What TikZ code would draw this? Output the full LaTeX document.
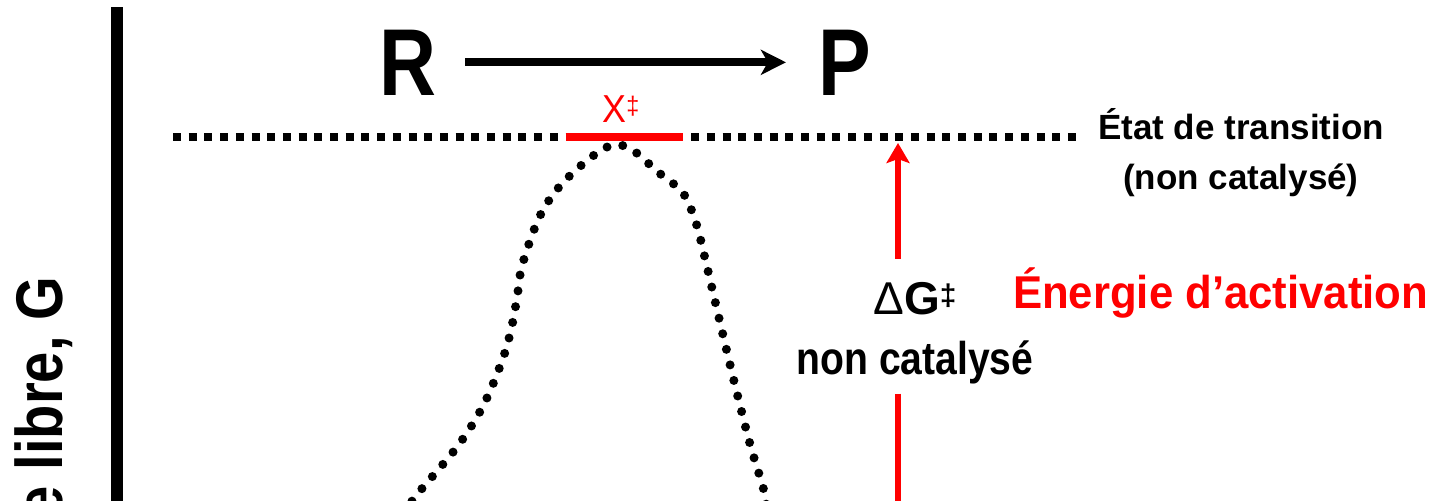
\documentclass[tikz,border=0pt]{standalone}
\usepackage{fontspec}
\setmainfont{Liberation Sans}
\usepackage{xcolor}
\usepackage{graphicx}
\usepackage{tikz}
\usetikzlibrary{arrows.meta}
\definecolor{actred}{HTML}{FF0000}
\definecolor{inkblack}{HTML}{000000}
\newcommand{\narrowed}[1]{\addfontfeatures{FakeStretch=#1}}
\newcommand{\tsmark}{\raisebox{0.18em}{\scalebox{0.65}{‡}}}
\tikzset{
  txt/.style={inner sep=0pt, outer sep=0pt, text=inkblack},
  species/.style={txt, font=\fontsize{47.5}{50}\selectfont\bfseries\narrowed{0.83}},
  tslabel/.style={txt, align=center, font=\fontsize{17.5}{25}\selectfont\bfseries},
  dglabel/.style={txt, align=center, font=\fontsize{23}{30}\selectfont\bfseries},
  actlabel/.style={txt, text=actred, font=\fontsize{23}{25}\selectfont\bfseries\narrowed{0.95}},
  xdaglabel/.style={txt, text=actred, font=\fontsize{19.5}{22}\selectfont\narrowed{0.92}},
  axislabel/.style={txt, rotate=90, font=\fontsize{33}{36}\selectfont\bfseries\narrowed{0.85}},
  gaxis/.style={line width=6pt, draw=inkblack},
  level/.style={line width=4pt, draw=inkblack, dash pattern=on 4pt off 3.85pt},
  profile/.style={line width=4.5pt, line cap=round, dash pattern=on 0pt off 8pt, draw=inkblack},
  tsbar/.style={line width=4pt, draw=actred},
  rxn/.style={-{Stealth[length=12.5pt, width=12.5pt, inset=3.5pt]}, line width=4pt, draw=inkblack},
  act/.style={line width=3.25pt, draw=actred},
  actarr/.style={act, -{Stealth[length=10pt, width=11.5pt, inset=2pt]}},
}
\begin{document}
\begin{tikzpicture}[x=0.5pt, y=-0.5pt]
  \useasboundingbox (0,0) rectangle (1439,500);
  \clip (0,0) rectangle (1439,500);
  % free energy axis
  \coordinate (axtop) at (117,7);
  \coordinate (axfoot) at (117,520);
  \draw[gaxis] (axtop) -- (axfoot);
  \node[axislabel, anchor=base east] (glabel) at (62,277) {Énergie libre, G};
  % reaction R -> P
  \node[species, anchor=base] (reac) at (408,95) {R};
  \node[species, anchor=base] (prod) at (845,95) {P};
  \draw[rxn, shorten <=14.3pt, shorten >=16.4pt] (reac.east) -- (reac.east -| prod.west);
  % uncatalysed profile
  \draw[profile] plot[smooth, tension=0.55] coordinates {(404,515) (415,497) (457,447) (483,406) (502,361) (511,330) (517,298) (522,266) (538,220) (555,192) (577,169) (603,149) (619,145) (634,151) (658,172) (683,193) (696,223) (704,254) (719,318) (734,381) (750,444) (764,491) (767,515)};
  % transition state level
  \coordinate (tsL) at (173,137);
  \coordinate (tsR) at (1076,137);
  \draw[level] (tsL) -- (tsR);
  \coordinate (tsbarL) at (566,137);
  \coordinate (tsbarR) at (683,137);
  \draw[tsbar] (tsbarL) -- (tsbarR);
  \node[xdaglabel, anchor=base] (xts) at (621,122) {X\tsmark};
  \node[tslabel, anchor=base] (tsname) at (1241,189) {État de transition\\(non catalysé)};
  % activation energy
  \coordinate (tstip) at (898,143);
  \coordinate (actfoot) at (898,520);
  \node[dglabel, anchor=base] (dg) at (915,374) {{\mdseries Δ}G\tsmark\\{\narrowed{0.85}non catalysé}};
  \draw[actarr, shorten <=11.5pt] (dg.north -| tstip) -- (tstip);
  \draw[act, shorten <=5pt] (dg.south -| tstip) -- (actfoot);
  \node[actlabel, anchor=base west] (actname) at (1013,308) {Énergie d’activation};
\end{tikzpicture}
\end{document}
